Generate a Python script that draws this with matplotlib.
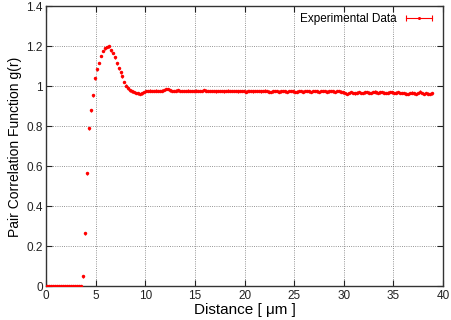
import numpy as np
import matplotlib
matplotlib.use('Agg')
import matplotlib.pyplot as plt
from matplotlib.lines import Line2D
from matplotlib.legend_handler import HandlerLine2D

plt.rcParams['font.family'] = ['Liberation Sans', 'DejaVu Sans']

# sampling of the histogram (bin centres, um)
r_start = 0.1
r_step = 0.2

# g(r), one value per bin
g_zero = [0.0] * 18
g_rise = [0.05, 0.265, 0.565, 0.79, 0.88, 0.955, 1.04, 1.085, 1.117, 1.152,
          1.176, 1.19, 1.197, 1.2, 1.18, 1.167, 1.145, 1.115, 1.09, 1.07,
          1.05, 1.022, 1.004, 0.99, 0.98, 0.975, 0.972, 0.968, 0.965, 0.962,
          0.965, 0.972, 0.977]
g_tail = [0.978, 0.979, 0.977, 0.978, 0.979, 0.978, 0.977, 0.979, 0.982, 0.988,
          0.986, 0.980, 0.978, 0.977, 0.979, 0.980, 0.978, 0.977, 0.976, 0.978,
          0.979, 0.977, 0.976, 0.978, 0.979, 0.977, 0.976, 0.978, 0.981, 0.979,
          0.977, 0.976, 0.978, 0.977, 0.975, 0.977, 0.978, 0.976, 0.975, 0.977,
          0.979, 0.977, 0.976, 0.978, 0.976, 0.975, 0.977, 0.978, 0.976, 0.974,
          0.976, 0.978, 0.977, 0.975, 0.976, 0.978, 0.976, 0.975, 0.977, 0.979,
          0.977, 0.974, 0.973, 0.975, 0.977, 0.976, 0.974, 0.975, 0.977, 0.975,
          0.973, 0.976, 0.978, 0.975, 0.972, 0.974, 0.977, 0.976, 0.974, 0.976,
          0.978, 0.975, 0.973, 0.976, 0.977, 0.975, 0.973, 0.976, 0.978, 0.976,
          0.974, 0.975, 0.977, 0.975, 0.973, 0.976, 0.977, 0.974, 0.970, 0.966,
          0.963, 0.967, 0.971, 0.968, 0.965, 0.969, 0.972, 0.968, 0.966, 0.970,
          0.973, 0.969, 0.967, 0.971, 0.974, 0.970, 0.967, 0.970, 0.972, 0.969,
          0.966, 0.969, 0.972, 0.970, 0.967, 0.969, 0.971, 0.968, 0.966, 0.968,
          0.964, 0.962, 0.966, 0.969, 0.965, 0.962, 0.967, 0.974, 0.966, 0.963,
          0.967, 0.964, 0.962, 0.965]
g_err = 0.006

g = np.array(g_zero + g_rise + g_tail)
r = r_start + r_step * np.arange(len(g))

fig = plt.figure(figsize=(4.52, 3.2), dpi=100)
ax = fig.add_axes([0.102, 0.105, 0.878, 0.875])

ax.errorbar(r, g, yerr=g_err, fmt='o', color='red', ms=2.5, mew=0,
            elinewidth=0.9, capsize=0, zorder=3)

ax.set_xlim(0, 40)
ax.set_ylim(0, 1.4)
ax.set_xticks(np.arange(0, 41, 5))
ax.set_yticks([0, 0.2, 0.4, 0.6, 0.8, 1, 1.2, 1.4])
ax.set_yticklabels(['0', '0.2', '0.4', '0.6', '0.8', '1', '1.2', '1.4'])
ax.tick_params(direction='in', top=True, right=True, length=4, width=0.8,
               labelsize=8.5, pad=2.5, colors='#222222')
ax.grid(True, color='0.45', linestyle=':', linewidth=0.6)
for s in ax.spines.values():
    s.set_color('#333333')
    s.set_linewidth(1.0)

ax.set_xlabel('Distance [ μm ]', fontsize=11, labelpad=0.5)
ax.set_ylabel('Pair Correlation Function g(r)', fontsize=10, labelpad=3)

# gnuplot style key: line with caps and a dot
cap_line = Line2D([0], [0], color='red', lw=0.8, marker='|', ms=5, mew=0.8)
dot = Line2D([0], [0], color='red', ls='none', marker='o', ms=2.2, mew=0)
ax.legend([(cap_line, dot)], ['Experimental Data'],
          handler_map={cap_line: HandlerLine2D(numpoints=2),
                       dot: HandlerLine2D(numpoints=1)},
          loc='upper right', frameon=False, markerfirst=False,
          fontsize=8.5, handlelength=2.8, borderaxespad=0.2,
          handletextpad=0.5)

fig.savefig('out.png', dpi=100)
